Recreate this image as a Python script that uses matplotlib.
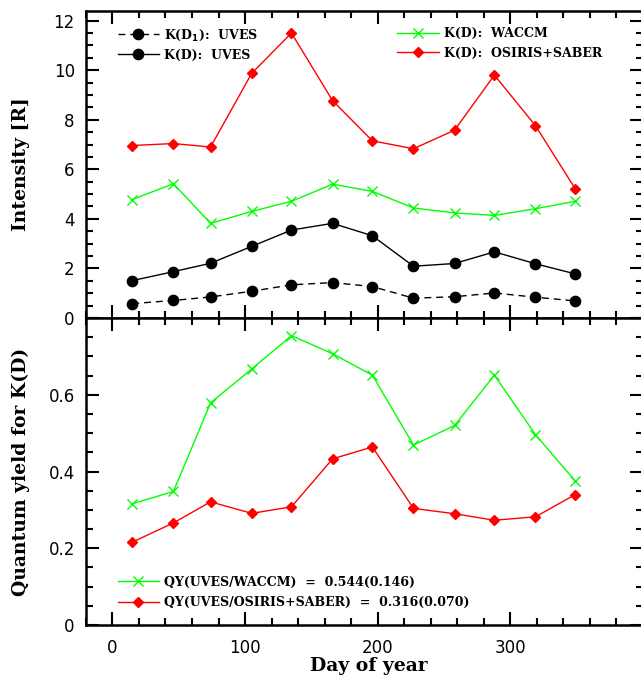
import numpy as np
import matplotlib
matplotlib.use('Agg')
import matplotlib.pyplot as plt
from matplotlib.ticker import MultipleLocator, FuncFormatter

# day of year (mid-month)
days = [15, 46, 74, 105, 135, 166, 196, 227, 258, 288, 319, 349]

# intensities [R]
kd1_uves = [0.58, 0.71, 0.85, 1.08, 1.34, 1.43, 1.27, 0.80, 0.86, 1.01, 0.84, 0.69]
kd_uves = [1.51, 1.87, 2.21, 2.89, 3.55, 3.82, 3.32, 2.09, 2.20, 2.67, 2.19, 1.78]
kd_waccm = [4.78, 5.42, 3.82, 4.30, 4.71, 5.40, 5.11, 4.44, 4.24, 4.14, 4.41, 4.71]
kd_osiris = [6.96, 7.04, 6.90, 9.87, 11.50, 8.77, 7.15, 6.83, 7.58, 9.80, 7.76, 5.21]

# quantum yield
qy_waccm = [0.316, 0.348, 0.579, 0.667, 0.754, 0.707, 0.651, 0.469, 0.520, 0.651, 0.496, 0.375]
qy_osiris = [0.216, 0.266, 0.321, 0.291, 0.308, 0.433, 0.464, 0.304, 0.290, 0.273, 0.282, 0.340]

label_font = 'DejaVu Serif'
leg_prop = {'family': label_font, 'weight': 'bold', 'size': 9}

fig = plt.figure(figsize=(6.41, 6.81), dpi=100)
ax1 = fig.add_axes([0.134, 0.533, 0.869, 0.4513])
ax2 = fig.add_axes([0.134, 0.0822, 0.869, 0.4508])


def style_axis(ax, ymajor, yminor):
    ax.xaxis.set_major_locator(MultipleLocator(100))
    ax.xaxis.set_minor_locator(MultipleLocator(20))
    ax.yaxis.set_major_locator(MultipleLocator(ymajor))
    ax.yaxis.set_minor_locator(MultipleLocator(yminor))
    ax.tick_params(which='both', direction='in', top=True, right=True,
                   width=1.5, labelsize=12, pad=8)
    ax.tick_params(axis='x', which='both', pad=10)
    ax.tick_params(which='major', length=9.5)
    ax.tick_params(which='minor', length=5)
    for sp in ax.spines.values():
        sp.set_linewidth(1.8)
    ax.xaxis.set_major_formatter(FuncFormatter(lambda v, p: '' if v >= 400 else f'{v:g}'))


# top panel: intensities
ax1.plot(days, kd1_uves, color='black', lw=1, ls=(0, (5, 3.5)), marker='o', ms=7.4,
         label=r'K(D$_\mathbf{1}$):  UVES')
ax1.plot(days, kd_uves, color='black', lw=1, marker='o', ms=7.4, label='K(D):  UVES')
ax1.plot(days, kd_waccm, color='#00ff00', lw=1, marker='x', ms=7, mew=1,
         label='K(D):  WACCM')
ax1.plot(days, kd_osiris, color='red', lw=1, marker='D', ms=5.5,
         label='K(D):  OSIRIS+SABER')
ax1.set_xlim(-20, 400)
ax1.set_ylim(0, 12.4)
style_axis(ax1, 2, 0.5)
ax1.tick_params(labelbottom=False)
ax1.set_ylabel('Intensity [R]', family=label_font, fontweight='bold', fontsize=13.5)
ax1.yaxis.set_label_coords(-0.1, 0.5)

h, l = ax1.get_legend_handles_labels()
leg1 = ax1.legend(h[:2], l[:2], loc='upper left', bbox_to_anchor=(0.048, 0.962),
                  frameon=False, handlelength=3.3, handletextpad=0.4, borderaxespad=0,
                  labelspacing=0.5, prop=leg_prop)
ax1.add_artist(leg1)
ax1.legend(h[2:], l[2:], loc='upper left', bbox_to_anchor=(0.55, 0.962),
           frameon=False, handlelength=3.3, handletextpad=0.4, borderaxespad=0,
           labelspacing=0.5, prop=leg_prop)

# bottom panel: quantum yield
ax2.plot(days, qy_waccm, color='#00ff00', lw=1, marker='x', ms=7, mew=1,
         label='QY(UVES/WACCM)  =  0.544(0.146)')
ax2.plot(days, qy_osiris, color='red', lw=1, marker='D', ms=5.5,
         label='QY(UVES/OSIRIS+SABER)  =  0.316(0.070)')
ax2.set_xlim(-20, 400)
ax2.set_ylim(0, 0.8)
style_axis(ax2, 0.2, 0.05)
ax2.yaxis.set_major_formatter(FuncFormatter(
    lambda v, p: '' if v > 0.79 else ('0' if abs(v) < 1e-9 else f'{v:.1f}')))
ax2.set_ylabel('Quantum yield for K(D)', family=label_font, fontweight='bold',
               fontsize=13.5)
ax2.yaxis.set_label_coords(-0.1, 0.5)
ax2.set_xlabel('Day of year', family=label_font, fontweight='bold', fontsize=13.5,
               labelpad=2)
ax2.xaxis.set_label_coords(0.508, -0.105)
ax2.legend(loc='lower left', bbox_to_anchor=(0.048, 0.035), frameon=False,
           handlelength=3.3, handletextpad=0.4, borderaxespad=0, labelspacing=0.6,
           prop=leg_prop)

fig.savefig('out.png', dpi=100)
